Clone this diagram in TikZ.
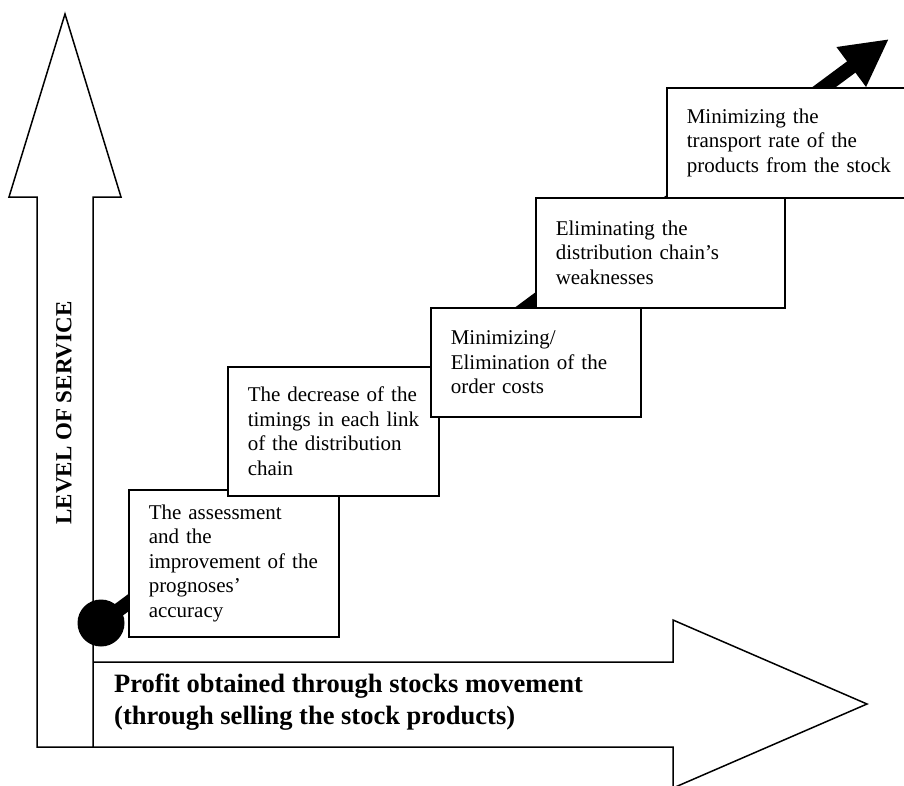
\documentclass[tikz,border=0pt]{standalone}
\usepackage{fontspec}
\setmainfont{Liberation Serif}
\usetikzlibrary{arrows.meta}

\begin{document}
\begin{tikzpicture}[x=1pt,y=-1pt,
	stepbox/.style={draw,fill=white,line width=1.5pt,anchor=north west,inner xsep=12pt,inner ysep=0pt,align=left,execute at begin node={\leftskip=8pt},font=\fontsize{21}{24.5}\selectfont},
	outline/.style={draw,line width=1.5pt,line join=miter}]
	\useasboundingbox (0,0) rectangle (904,785);
	\clip (0,0) rectangle (904,785);
	% axes
	\draw[outline] (37,747) -- (37,197) -- (9,197) -- (65,14) -- (121,197) -- (93,197) -- (93,747) -- cycle;
	\draw[outline] (93,662) -- (673,662) -- (673,620) -- (867,704) -- (673,788) -- (673,747) -- (93,747);
	\node[rotate=90,font=\fontsize{23}{27}\selectfont\bfseries] (lvl) at (64,413) {LEVEL OF SERVICE};
	\node[anchor=west,inner sep=0pt,align=left,font=\fontsize{26.5}{32.5}\selectfont\bfseries] (profit) at (114,702) {Profit obtained through stocks movement\\(through selling the stock products)};
	% black arrow behind the steps
	\coordinate (tip) at (889,39);
	\node[circle,fill=black,minimum size=47pt,inner sep=0pt] (dot) at (101,623) {};
	\draw[line width=14pt,-{Triangle[length=47pt,width=46pt]}] (dot.center) -- (tip);
	% steps
	\node[stepbox,text width=186pt,minimum height=147pt] (b1) at (128,489) {The assessment\\and the\\improvement of the\\prognoses’\\accuracy};
	\node[stepbox,text width=187pt,minimum height=129pt] (b2) at (227,366) {The decrease of the\\timings in each link\\of the distribution\\chain};
	\node[stepbox,text width=186pt,minimum height=109pt] (b3) at (430,307) {Minimizing/\\Elimination of the\\order costs};
	\node[stepbox,text width=225pt,minimum height=110pt] (b4) at (535,197) {Eliminating the\\distribution chain’s\\weaknesses};
	\node[stepbox,text width=230pt,minimum height=110pt] (b5) at (666,87) {Minimizing the\\transport rate of the\\products from the stock};
\end{tikzpicture}
\end{document}
